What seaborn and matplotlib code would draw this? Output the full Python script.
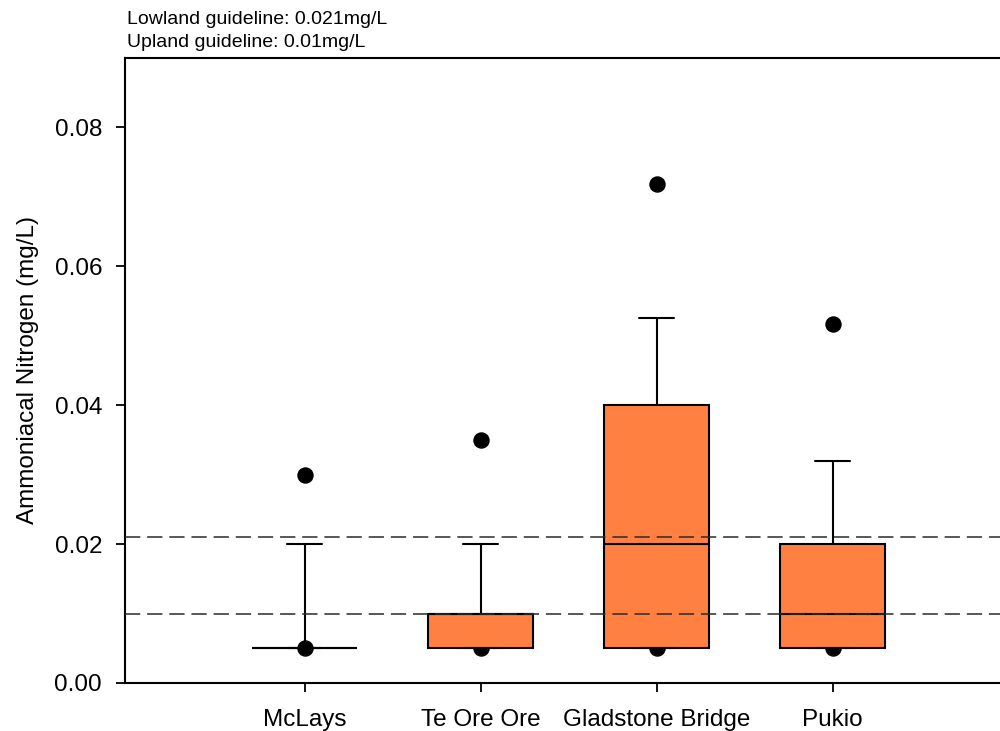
import matplotlib
matplotlib.use("Agg")
import matplotlib.pyplot as plt
import seaborn as sns
import pandas as pd

sites = ["McLays", "Te Ore Ore", "Gladstone Bridge", "Pukio"]
whisker_low = [0.005, 0.005, 0.005, 0.005]
q1 = [0.005, 0.005, 0.005, 0.005]
median = [0.005, 0.010, 0.020, 0.010]
q3 = [0.005, 0.010, 0.040, 0.020]
whisker_high = [0.020, 0.020, 0.0525, 0.032]
outlier_high = [0.030, 0.035, 0.0718, 0.0517]
outlier_low = [0.005, 0.005, 0.005, 0.005]
lowland_guideline = 0.021
upland_guideline = 0.01
yticks = [0.00, 0.02, 0.04, 0.06, 0.08]

sns.set_style("ticks")
plt.rcParams['font.family'] = ['Liberation Sans', 'DejaVu Sans']
plt.rcParams['text.color'] = 'black'
plt.rcParams['axes.labelcolor'] = 'black'
plt.rcParams['xtick.color'] = 'black'
plt.rcParams['ytick.color'] = 'black'

fig = plt.figure(figsize=(10, 7.31), dpi=100)
ax = fig.add_axes([0.125, 0.0657, 0.880, 0.855])

positions = [1, 2, 3, 4]
stats = []
for i, s in enumerate(sites):
    stats.append(dict(label=s, whislo=whisker_low[i], q1=q1[i], med=median[i],
                      q3=q3[i], whishi=whisker_high[i], fliers=[]))

ax.bxp(stats, positions=positions, widths=0.6, patch_artist=True,
       showfliers=False, zorder=3,
       boxprops=dict(facecolor="#FF8040", edgecolor="black", linewidth=1.5),
       medianprops=dict(color="black", linewidth=1.5),
       whiskerprops=dict(color="black", linewidth=1.5),
       capprops=dict(color="black", linewidth=1.5),
       capwidths=0.2)

pts = pd.DataFrame({
    "x": positions + positions,
    "y": outlier_high + outlier_low,
})
sns.scatterplot(data=pts, x="x", y="y", ax=ax, color="black", s=140,
                linewidth=0, zorder=2, legend=False)

ax.axhline(lowland_guideline, color="#2a2a2a", linewidth=1.1, dashes=(10, 4.5), zorder=4)
ax.axhline(upland_guideline, color="#2a2a2a", linewidth=1.1, dashes=(10, 4.5), zorder=4)

ax.set_xlim(-0.02, 4.98)
ax.set_ylim(0, 0.09)
ax.set_xticks(positions)
ax.set_xticklabels(sites, fontsize=17.5)
ax.set_yticks(yticks)
ax.set_yticklabels([f"{v:.2f}" for v in yticks], fontsize=17.5)
ax.set_xlabel("")
ax.set_ylabel("Ammoniacal Nitrogen (mg/L)", fontsize=17.5, labelpad=11)
ax.tick_params(axis="both", direction="out", length=6.5, width=1.3, color="black", pad=10)
ax.tick_params(axis="x", pad=12)
for sp in ax.spines.values():
    sp.set_linewidth(1.5)
    sp.set_color("black")
    sp.set_visible(True)

fig.text(0.127, 0.973, "Lowland guideline: 0.021mg/L", fontsize=14, va="center", ha="left")
fig.text(0.127, 0.942, "Upland guideline: 0.01mg/L", fontsize=14, va="center", ha="left")

fig.savefig("out.png", dpi=100)
